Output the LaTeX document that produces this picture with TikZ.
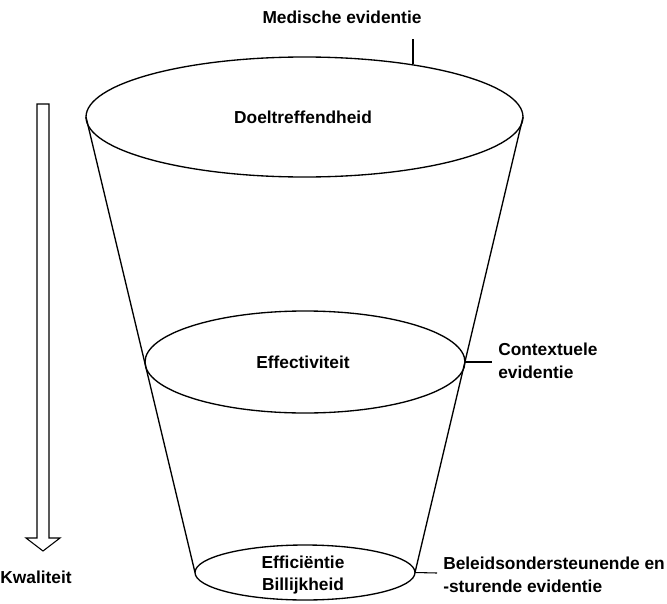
\documentclass[tikz,border=0pt]{standalone}
\usepackage{fontspec}
\setmainfont{Liberation Sans}
\usetikzlibrary{shapes.geometric}
\begin{document}
\begin{tikzpicture}[x=0.75pt,y=-0.75pt,
  cup/.style={draw, ellipse, line width=1pt, inner sep=0pt, outer sep=0pt},
  txt/.style={font=\fontsize{13}{17}\selectfont\bfseries, align=center, inner sep=0pt},
  lbl/.style={font=\fontsize{13}{17}\selectfont\bfseries, align=left, inner sep=0pt},
  cone/.style={line width=1pt},
  leader/.style={line width=0.8pt},
  hollowarrow/.style={line width=0.8pt, line join=miter}]
\useasboundingbox (0,0) rectangle (667,603);
% ellipses
\node[cup, minimum width=327.75pt, minimum height=90pt] (top) at (304.5,117) {};
\node[cup, minimum width=240pt, minimum height=76.5pt] (mid) at (305,362) {};
\node[cup, minimum width=165pt, minimum height=41.25pt] (bot) at (305,572.5) {};
% cone sides
\draw[cone] (top.west) -- (bot.west);
\draw[cone] (top.east) -- (bot.east);
% texts inside
\node[txt] (t1) at (303,117) {Doeltreffendheid};
\node[txt] (t2) at (303,362) {Effectiviteit};
\node[txt] (t3) at (303,575) {Efficiëntie\\Billijkheid};
% leaders and labels
\coordinate (mtop) at (413,64);
\coordinate (mend) at (413,39);
\draw[leader] (mtop) -- (mend);
\node[lbl] (med) at (342,17) {Medische evidentie};
\coordinate (cend) at (492,362);
\draw[leader] (mid.east) -- (cend);
\node[lbl, anchor=west] (ctx) at (498,361) {Contextuele\\evidentie};
\coordinate (bend) at (437,573);
\draw[leader] (bot.east) -- (bend);
\node[lbl, anchor=west] (bel) at (443,575) {Beleidsondersteunende en\\-sturende evidentie};
% quality arrow
\draw[hollowarrow] (37,104) -- (49,104) -- (49,538) -- (60,538) -- (43,551) -- (26,538) -- (37,538) -- cycle;
\node[lbl] (kw) at (36,577) {Kwaliteit};
\end{tikzpicture}
\end{document}
